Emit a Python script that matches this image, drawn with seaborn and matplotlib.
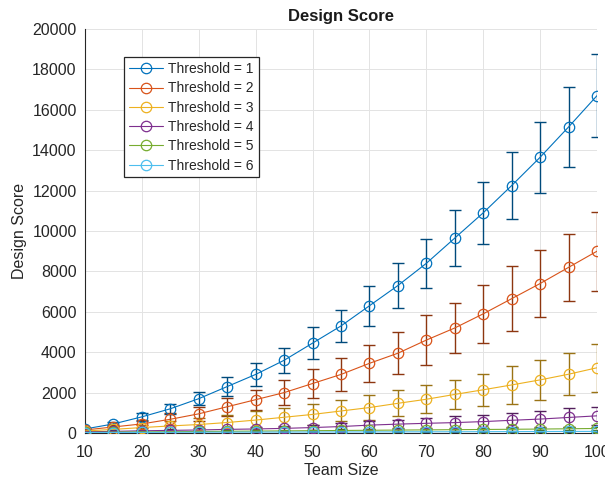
import numpy as np
import pandas as pd
import matplotlib
matplotlib.use("Agg")
import matplotlib.pyplot as plt
import seaborn as sns

# ---- data ----
team_size = [10, 15, 20, 25, 30, 35, 40, 45, 50, 55, 60, 65, 70, 75, 80, 85, 90, 95, 100]

labels = ["Threshold = 1", "Threshold = 2", "Threshold = 3",
          "Threshold = 4", "Threshold = 5", "Threshold = 6"]

t1_mean = [200, 450, 800, 1200, 1700, 2300, 2900, 3600, 4450, 5300, 6300, 7300, 8400, 9650, 10900, 12250, 13650, 15150, 16700]
t1_err = [60, 110, 200, 250, 330, 460, 580, 620, 800, 800, 1000, 1100, 1200, 1370, 1530, 1660, 1760, 2000, 2050]

t2_mean = [150, 300, 450, 680, 950, 1300, 1650, 2000, 2450, 2900, 3450, 3950, 4600, 5200, 5900, 6650, 7400, 8200, 9000]
t2_err = [50, 100, 200, 300, 350, 450, 500, 600, 720, 800, 920, 1050, 1230, 1230, 1450, 1600, 1680, 1650, 1950]

t3_mean = [100, 180, 270, 350, 420, 520, 640, 780, 920, 1090, 1260, 1470, 1670, 1910, 2140, 2380, 2630, 2910, 3230]
t3_err = [50, 100, 150, 250, 300, 350, 430, 480, 530, 520, 600, 640, 690, 700, 800, 950, 1000, 1050, 1200]

t4_mean = [60, 80, 110, 130, 150, 180, 200, 230, 270, 320, 390, 440, 480, 515, 565, 630, 690, 770, 850]
t4_err = [40, 50, 60, 70, 80, 90, 100, 120, 140, 160, 190, 210, 250, 320, 350, 350, 400, 450, 450]

t5_mean = [30, 45, 55, 65, 75, 85, 95, 105, 115, 125, 135, 145, 155, 165, 175, 185, 195, 210, 225]
t5_err = [20, 25, 30, 35, 40, 40, 45, 50, 50, 55, 55, 60, 60, 65, 65, 70, 70, 75, 80]

t6_mean = [20, 25, 30, 35, 40, 42, 45, 48, 50, 53, 55, 58, 60, 63, 66, 70, 73, 77, 80]
t6_err = [10, 12, 14, 16, 18, 20, 22, 24, 25, 27, 28, 30, 32, 33, 35, 36, 38, 40, 42]

means = [t1_mean, t2_mean, t3_mean, t4_mean, t5_mean, t6_mean]
errs = [t1_err, t2_err, t3_err, t4_err, t5_err, t6_err]

colors = ["#0072BD", "#D95319", "#EDB120", "#7E2F8E", "#77AC30", "#4DBEEE"]

# ---- style ----
sns.set_style("white")
plt.rcParams["font.family"] = ["Liberation Sans", "DejaVu Sans"]

fig = plt.figure(figsize=(6.05, 4.83), dpi=100)
ax = fig.add_axes([0.1405, 0.1035, 0.9868 - 0.1405, 0.940 - 0.1035])


def darker(c, f=0.35):
    r, g, b = matplotlib.colors.to_rgb(c)
    return (r * (1 - f), g * (1 - f), b * (1 - f))


for lab, m, e, c in zip(labels, means, errs, colors):
    df = pd.DataFrame({"Team Size": team_size, "Design Score": m})
    ax.errorbar(team_size, m, yerr=e, fmt="none", ecolor=darker(c),
                elinewidth=1.0, capsize=4, capthick=1.0, zorder=2)
    sns.lineplot(data=df, x="Team Size", y="Design Score", color=c,
                 marker="o", markersize=7.5, markerfacecolor="none",
                 markeredgecolor=c, markeredgewidth=0.9, linewidth=0.8,
                 label=lab, ax=ax, zorder=3)

ax.set_xlim(10, 100)
ax.set_ylim(0, 20000)
ax.set_xticks(np.arange(10, 101, 10))
ax.set_yticks(np.arange(0, 20001, 2000))
ax.grid(True, color="#e3e3e3", linewidth=0.7)
ax.set_axisbelow(True)

for s in ["top", "right"]:
    ax.spines[s].set_visible(False)
for s in ["left", "bottom"]:
    ax.spines[s].set_color("#262626")
    ax.spines[s].set_linewidth(0.8)

ax.tick_params(axis="both", direction="in", length=3, width=0.6,
               color="#262626", labelsize=11.5, labelcolor="#262626")
ax.tick_params(axis="x", pad=8.5)
ax.tick_params(axis="y", pad=6)

ax.set_title("Design Score", fontsize=12, fontweight="bold", pad=6, color="#1a1a1a")
ax.set_xlabel("Team Size", fontsize=11.5, labelpad=2, color="#262626")
ax.set_ylabel("Design Score", fontsize=11.5, labelpad=4, color="#262626")

leg = ax.legend(loc="upper left", bbox_to_anchor=(0.076, 0.93), borderaxespad=0,
                fontsize=10, frameon=True, fancybox=False, framealpha=1,
                edgecolor="#262626", handlelength=2.5, handletextpad=0.35,
                labelspacing=0.38, borderpad=0.35)
leg.get_frame().set_linewidth(0.9)

fig.savefig("out.png", dpi=100)
